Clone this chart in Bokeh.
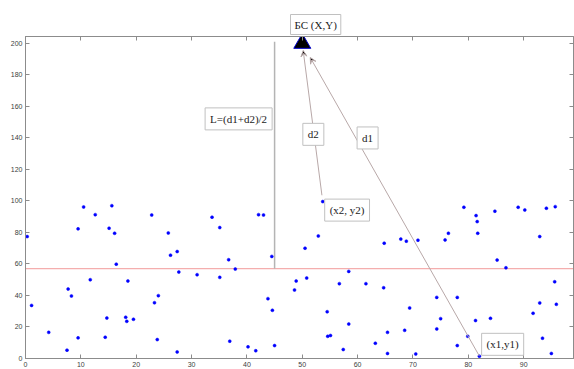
from bokeh.plotting import figure
from bokeh.models import Range1d, LinearAxis, Label, Arrow, VeeHead, FixedTicker, Title
from bokeh.embed import file_html
from bokeh.resources import INLINE

# ---- data ----
x_pts = [0.3, 1.1, 4.2, 7.5, 7.7, 8.3, 9.5, 9.5, 10.5, 11.7, 12.6, 14.4, 14.7, 15.1, 15.6, 16.1,
         16.4, 18.1, 18.3, 18.5, 19.5, 22.8, 23.3, 23.8, 24.0, 25.8, 26.2, 27.4, 27.4, 27.7, 31.0,
         33.7, 35.1, 35.1, 36.7, 37.9, 36.9, 40.2, 41.6, 42.1, 43.0, 43.8, 44.5, 44.6, 45.0, 48.6,
         48.9, 50.5, 50.8, 52.9, 53.7, 54.5, 54.6, 55.1, 56.7, 57.4, 58.4, 58.4, 61.5, 63.2, 64.7,
         64.8, 65.4, 65.4, 67.8, 68.8, 68.5, 69.4, 70.5, 70.9, 74.3, 74.3, 75.0, 75.8, 76.4, 78.0,
         78.0, 79.2, 79.9, 81.4, 81.6, 81.7, 81.3, 82.0, 84.0, 84.8, 85.2, 86.8, 89.0, 90.2, 91.7,
         92.9, 92.9, 93.4, 94.1, 95.0, 95.6, 95.7, 95.9]
y_pts = [77.4, 33.7, 16.6, 5.3, 44.1, 39.7, 82.3, 13.1, 96.2, 50.0, 91.3, 13.5, 25.7, 82.7, 97.0, 79.5,
         59.9, 26.2, 23.6, 49.2, 24.9, 91.1, 35.4, 12.0, 39.9, 79.7, 65.6, 67.9, 4.2, 54.9, 53.2,
         89.7, 83.1, 51.5, 62.7, 56.8, 11.0, 7.4, 4.9, 91.3, 91.1, 38.0, 64.8, 30.6, 8.2, 43.5,
         49.2, 70.0, 51.1, 77.8, 99.6, 29.7, 14.1, 14.6, 47.5, 5.7, 55.3, 21.9, 47.5, 9.7, 44.9,
         73.2, 16.6, 3.2, 75.8, 74.5, 17.9, 32.1, 2.9, 75.1, 38.8, 18.8, 25.3, 75.3, 79.5, 38.8,
         8.2, 96.0, 14.1, 90.7, 86.9, 79.5, 24.1, 1.5, 25.5, 93.5, 62.5, 57.6, 96.0, 94.3, 28.7,
         35.3, 77.4, 12.9, 95.4, 3.2, 48.7, 96.4, 34.4]
bs_x, bs_y = 50.0, 200.0          # base station
p1_x, p1_y = 82.0, 1.5            # (x1, y1)
p2_x, p2_y = 53.7, 99.6           # (x2, y2)
level_y = 57.0                    # horizontal red level
l_x = 45.0                        # vertical line L
l_top = 201.0
x_ticks = [0, 10, 20, 30, 40, 50, 60, 70, 80, 90]
y_ticks = [0, 20, 40, 60, 80, 100, 120, 140, 160, 180, 200]

# ---- figure ----
p = figure(width=574, height=369, output_backend="svg", toolbar_location=None,
           x_range=Range1d(0, 99), y_range=Range1d(0, 204.4),
           x_axis_location=None, y_axis_location=None,
           min_border_left=25, min_border_right=1, min_border_top=36, min_border_bottom=10)
p.background_fill_color = "white"
p.border_fill_color = "white"
p.outline_line_color = "#8c8c8c"
p.xgrid.visible = False
p.ygrid.visible = False

axis_col = "#8c8c8c"
def make_axis(ticks, labels=True):
    if labels:
        ax = LinearAxis(ticker=FixedTicker(ticks=ticks))
        ax.major_label_text_font = "Liberation Sans"
        ax.major_label_text_color = "#404040"
        ax.major_label_text_font_size = "7px"
        ax.major_label_standoff = 3
    else:
        ax = LinearAxis(ticker=FixedTicker(ticks=[], minor_ticks=ticks))
        ax.minor_tick_line_color = axis_col
        ax.minor_tick_in = 4
        ax.minor_tick_out = 0
    ax.axis_line_color = axis_col
    ax.major_tick_line_color = axis_col
    ax.major_tick_in = 4
    ax.major_tick_out = 0
    if labels:
        ax.minor_tick_line_color = None
    return ax

p.add_layout(make_axis(x_ticks), "below")
p.add_layout(make_axis(y_ticks), "left")
p.add_layout(make_axis(x_ticks, False), "above")
p.add_layout(make_axis(y_ticks, False), "right")

# horizontal level line
p.line([0, 99], [level_y, level_y], line_color="#f29a9a", line_width=1)
# vertical L line
p.line([l_x, l_x], [level_y, l_top], line_color="#b4b4b4", line_width=1.5)

# points
p.scatter(x_pts, y_pts, size=3, marker="circle", fill_color="#0000ff", line_color="#0000ff",
          line_width=0.5)

# arrows from points to base station
arrow_col = "#b8a8a8"
for (px_, py_, f0) in [(p1_x, p1_y, 0.0), (p2_x, p2_y, 0.04)]:
    f1 = 0.955
    xs = px_ + (bs_x - px_) * f0
    ys = py_ + (bs_y - py_) * f0
    xe = px_ + (bs_x - px_) * f1
    ye = py_ + (bs_y - py_) * f1
    p.add_layout(Arrow(x_start=xs, y_start=ys, x_end=xe, y_end=ye,
                       line_color=arrow_col, line_width=1,
                       end=VeeHead(size=6, line_color=arrow_col, line_width=1)))

# base station
p.scatter([bs_x], [bs_y], marker="triangle", size=17, fill_color="black",
          line_color="#0000cc", line_width=1)

# text boxes
def box(x, y, text):
    shadow = Label(x=x, y=y, text=text, x_offset=2, y_offset=-2,
                   text_font="Liberation Serif", text_font_size="11px",
                   text_align="center", text_baseline="middle", text_alpha=0,
                   background_fill_color="#999999", background_fill_alpha=0.6,
                   padding=5)
    lab = Label(x=x, y=y, text=text,
                text_font="Liberation Serif", text_font_size="11px", text_color="#222222",
                text_align="center", text_baseline="middle",
                background_fill_color="white", background_fill_alpha=1.0,
                border_line_color="#c0c0c0", border_line_width=1, padding=5)
    p.add_layout(shadow)
    p.add_layout(lab)

top_title = Title(text="БС (X,Y)", align="left", offset=265, standoff=4,
                  text_font="Liberation Serif", text_font_size="11px", text_font_style="normal",
                  text_color="#222222", background_fill_color="white",
                  border_line_color="#c0c0c0", border_line_width=1, padding=4)
p.add_layout(top_title, "above")

box(38.5, 152.1, "L=(d1+d2)/2")
box(52.0, 142.3, "d2")
box(61.8, 140.0, "d1")
box(58.1, 94.2, "(x2, y2)")
box(86.2, 9.0, "(x1,y1)")

open("out.html", "w").write(file_html(p, INLINE))
